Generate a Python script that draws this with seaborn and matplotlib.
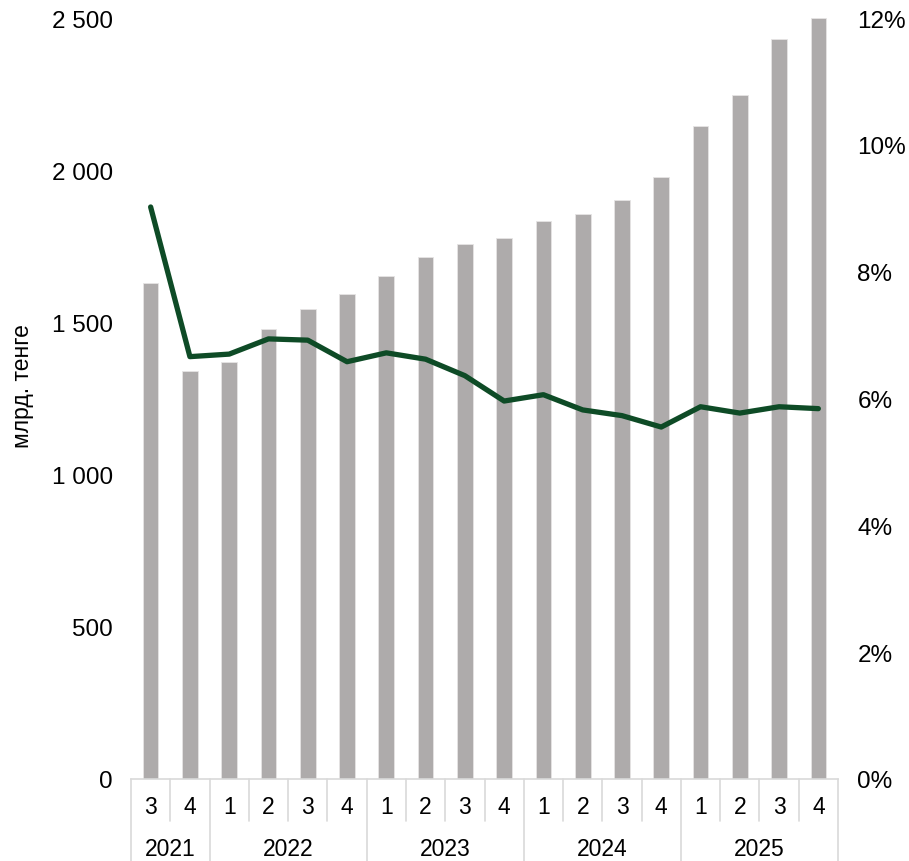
import numpy as np
import pandas as pd
import matplotlib
matplotlib.use("Agg")
import matplotlib.pyplot as plt
import matplotlib.transforms as mtransforms
import seaborn as sns

years = ["2021", "2022", "2023", "2024", "2025"]
quarters = ["3", "4", "1", "2", "3", "4", "1", "2", "3", "4",
            "1", "2", "3", "4", "1", "2", "3", "4"]
quarter_years = ["2021", "2021", "2022", "2022", "2022", "2022",
                 "2023", "2023", "2023", "2023", "2024", "2024", "2024", "2024",
                 "2025", "2025", "2025", "2025"]
volume = [1629, 1340, 1370, 1478, 1544, 1593, 1652, 1715, 1758, 1777,
          1833, 1856, 1902, 1978, 2145, 2247, 2431, 2500]
share_pct = [9.02, 6.66, 6.70, 6.94, 6.92, 6.58, 6.72, 6.62, 6.36, 5.96,
             6.06, 5.82, 5.73, 5.55, 5.87, 5.77, 5.87, 5.84]
y_label = "млрд. тенге"

sns.set_theme(style="white")
plt.rcParams["font.family"] = ["Liberation Sans", "DejaVu Sans"]

cats = [f"{y}-{q}-{i}" for i, (y, q) in enumerate(zip(quarter_years, quarters))]
df = pd.DataFrame({"cat": cats, "volume": volume, "share": share_pct,
                   "pos": np.arange(len(cats))})

W, H = 909, 862
fig = plt.figure(figsize=(W / 100, H / 100), dpi=100)
ax = fig.add_axes([131 / W, (H - 780) / H, (838 - 131) / W, (780 - 19) / H])

sns.barplot(data=df, x="cat", y="volume", order=cats, color="#AEABAB",
            saturation=1, width=0.4, ax=ax, edgecolor="#E6E4E4", linewidth=0.6)
ax.set_xlim(-0.5, len(cats) - 0.5)
ax.set_ylim(0, 2500)
ax.set_yticks(np.arange(0, 2501, 500))
ax.set_yticklabels([f"{v:,}".replace(",", " ") for v in range(0, 2501, 500)])
ax.set_xticks([])
ax.set_xlabel("")
ax.set_ylabel("")
for s in ["left", "right", "top"]:
    ax.spines[s].set_visible(False)
ax.spines["bottom"].set_color("#D9D9D9")
ax.spines["bottom"].set_linewidth(1.2)
ax.tick_params(axis="y", length=0, pad=13, labelsize=17.5, labelcolor="black")

ax2 = ax.twinx()
sns.lineplot(data=df, x="pos", y="share", color="#0E4B26", linewidth=3.8,
             ax=ax2, solid_capstyle="round")
ax2.set_ylim(0, 12)
ax2.set_yticks(np.arange(0, 13, 2))
ax2.set_yticklabels([f"{v}%" for v in range(0, 13, 2)])
ax2.set_xlim(-0.5, len(cats) - 0.5)
ax2.set_xlabel("")
ax2.set_ylabel("")
for s in ["left", "right", "top", "bottom"]:
    ax2.spines[s].set_visible(False)
ax2.tick_params(axis="y", length=0, pad=14, labelsize=17.5, labelcolor="black")

# multi-level category axis
trans = mtransforms.blended_transform_factory(ax.transData, fig.transFigure)
y_axis = (H - 780) / H
y_q_end = (H - 822) / H
y_q_text = (H - 808) / H
y_year_text = (H - 850) / H
sep_color = "#D9D9D9"
n = len(cats)
for i in range(n + 1):
    x = i - 0.5
    is_year_sep = (i == 0 or i == n or quarter_years[i] != quarter_years[i - 1])
    y_end = 0 if is_year_sep else y_q_end
    ax.plot([x, x], [y_axis, y_end], transform=trans, color=sep_color,
            lw=1.2, clip_on=False)
for i, q in enumerate(quarters):
    ax.text(i, y_q_text, q, transform=trans, ha="center", va="center",
            fontsize=16.5, color="black")
for yr in years:
    idx = [i for i, y in enumerate(quarter_years) if y == yr]
    ax.text((idx[0] + idx[-1]) / 2, y_year_text, yr, transform=trans,
            ha="center", va="center", fontsize=16.5, color="black")

fig.text(22 / W, (H - 386) / H, y_label, rotation=90, ha="center",
         va="center", fontsize=16.5, color="black")

fig.savefig("out.png", dpi=100)
